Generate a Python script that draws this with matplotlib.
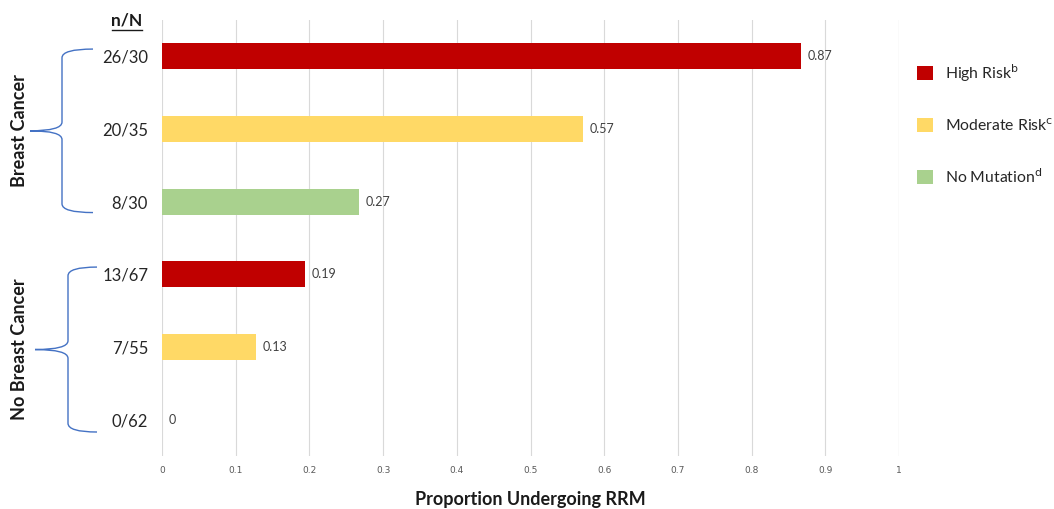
import matplotlib
matplotlib.use("Agg")
import matplotlib.pyplot as plt
from matplotlib.path import Path
from matplotlib.patches import PathPatch, Patch
from matplotlib import transforms

plt.rcParams["font.family"] = ["Lato", "DejaVu Sans"]

# data, top to bottom
counts = ["26/30", "20/35", "8/30", "13/67", "7/55", "0/62"]
proportions = [0.867, 0.571, 0.267, 0.194, 0.127, 0.0]
value_labels = ["0.87", "0.57", "0.27", "0.19", "0.13", "0"]
risk_groups = ["High Risk", "Moderate Risk", "No Mutation", "High Risk", "Moderate Risk", "No Mutation"]
legend_labels = [r"High Risk$^{\mathrm{b}}$", r"Moderate Risk$^{\mathrm{c}}$", r"No Mutation$^{\mathrm{d}}$"]
cancer_groups = ["Breast Cancer", "No Breast Cancer"]
x_ticks = [0, 0.1, 0.2, 0.3, 0.4, 0.5, 0.6, 0.7, 0.8, 0.9, 1]

colors = {"High Risk": "#C00000", "Moderate Risk": "#FFD966", "No Mutation": "#A9D18E"}

W, H = 1054, 509
fig = plt.figure(figsize=(W / 100, H / 100), dpi=100)
ax = fig.add_axes([162 / W, 1 - 456 / H, (899 - 162) / W, (456 - 20) / H])

ypos = list(range(len(counts)))
ax.barh(ypos, proportions, height=0.36, color=[colors[g] for g in risk_groups], zorder=3)
for y, v, lab in zip(ypos, proportions, value_labels):
    ax.annotate(lab, (v, y), xytext=(5, 0), textcoords="offset points",
                va="center", ha="left", fontsize=9, color="#404040")

ax.set_ylim(len(counts) - 0.5, -0.5)
ax.set_xlim(0, 1)
ax.set_xticks(x_ticks)
ax.set_xticklabels([f"{t:g}" for t in x_ticks], fontsize=6.5, color="#595959",
                   family=["DejaVu Sans"])
ax.set_yticks(ypos)
ax.set_yticklabels(counts, fontsize=12, color="#262626")
ax.tick_params(axis="both", length=0)
ax.tick_params(axis="x", pad=7)
ax.tick_params(axis="y", pad=10)
ax.grid(axis="x", color="#D9D9D9", linewidth=0.8, zorder=0)
for s in ax.spines.values():
    s.set_visible(False)
ax.axvline(1, color="#D9D9D9", linewidth=0.8, zorder=0)

ax.set_xlabel("Proportion Undergoing RRM", fontsize=13, fontweight="bold",
              color="#1a1a1a", labelpad=12)

fig.text(127 / W, 1 - 20 / H, "n/N", fontsize=12.5, fontweight="bold",
         ha="center", va="center", color="#1a1a1a")
fig.add_artist(plt.Line2D([112 / W, 142 / W], [1 - 30 / H, 1 - 30 / H],
                          color="#1a1a1a", linewidth=1))

# curly braces grouping the rows (x in figure fraction, y in data)
trans = transforms.blended_transform_factory(fig.transFigure, ax.transData)


def brace(y_top, y_bot, x_end, x_mid, x_tip):
    xe, xm, xt = x_end / W, x_mid / W, x_tip / W
    yc = (y_top + y_bot) / 2
    r = 0.12
    verts = [
        (xe, y_top), (xm, y_top), (xm, y_top + r),
        (xm, yc - r),
        (xm, yc), (xt, yc),
        (xm, yc), (xm, yc + r),
        (xm, y_bot - r),
        (xm, y_bot), (xe, y_bot),
    ]
    codes = [Path.MOVETO, Path.CURVE3, Path.CURVE3, Path.LINETO,
             Path.CURVE3, Path.CURVE3,
             Path.CURVE3, Path.CURVE3,
             Path.LINETO, Path.CURVE3, Path.CURVE3]
    fig.add_artist(PathPatch(Path(verts, codes), transform=trans, fill=False,
                             edgecolor="#4472C4", linewidth=1, clip_on=False))


brace(-0.1, 2.15, 93, 62, 30)
brace(2.9, 5.17, 97, 68, 35)

fig.text(20 / W, 1 - 131 / H, cancer_groups[0], rotation=90, fontsize=13,
         fontweight="bold", ha="center", va="center", color="#1a1a1a")
fig.text(20 / W, 1 - 349 / H, cancer_groups[1], rotation=90, fontsize=13,
         fontweight="bold", ha="center", va="center", color="#1a1a1a")

handles = [Patch(facecolor=colors[k], edgecolor="none") for k in ["High Risk", "Moderate Risk", "No Mutation"]]
fig.legend(handles, legend_labels, loc="upper left", bbox_to_anchor=(903 / W, 1 - 48 / H),
           frameon=False, fontsize=11.3, labelspacing=2.12, handlelength=1.0,
           handleheight=1.0, handletextpad=0.75, labelcolor="#262626")

fig.savefig("out.png", dpi=100)
